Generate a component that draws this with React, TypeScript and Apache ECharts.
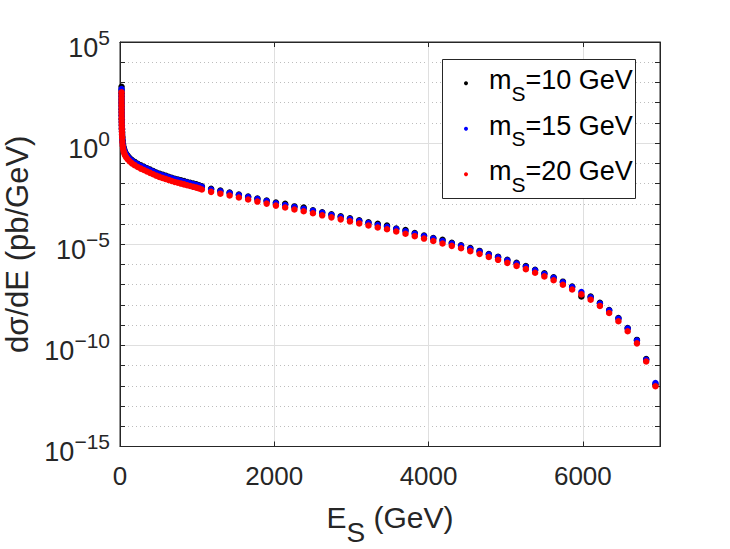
import React, { useEffect, useRef } from 'react';
import * as echarts from 'echarts';

// Energy of the scalar, E_S (GeV)
const energyGeV = [
  20, 20.05, 20.1, 20.2, 20.3, 20.5, 20.7, 21, 21.4, 22,
  22.7, 23.5, 24.5, 26, 28, 31, 35, 40, 47, 55,
  65, 80, 100, 125, 155, 190, 230, 270, 310, 350,
  390, 430, 470, 510, 550, 590, 630, 670, 710, 750,
  790, 830, 870, 910, 950, 990, 1025, 1061,
  1181, 1301, 1421, 1541, 1661, 1781, 1901, 2021, 2141, 2261,
  2381, 2501, 2621, 2741, 2861, 2981, 3101, 3221, 3341, 3461,
  3581, 3701, 3821, 3941, 4061, 4181, 4301, 4421, 4541, 4661,
  4781, 4901, 5021, 5141, 5261, 5381, 5501, 5621, 5741, 5861,
  5981, 6101, 6221, 6341, 6461, 6581, 6701, 6821, 6941,
];

// log10 of dσ/dE (pb/GeV), m_S = 10 GeV
const logDsdE_m10 = [
  2.79, 2.63, 2.47, 2.31, 2.15, 1.99, 1.83, 1.67, 1.51, 1.35,
  1.18, 1.02, 0.86, 0.69, 0.51, 0.30, 0.11, -0.06, -0.21, -0.32,
  -0.43, -0.53, -0.63, -0.74, -0.84, -0.93, -1.02, -1.10, -1.17, -1.24,
  -1.31, -1.38, -1.45, -1.51, -1.56, -1.61, -1.66, -1.71, -1.76, -1.80,
  -1.84, -1.88, -1.92, -1.96, -2.00, -2.04, -2.08, -2.13,
  -2.26, -2.35, -2.44, -2.54, -2.64, -2.74, -2.84, -2.94, -3.00, -3.13,
  -3.19, -3.32, -3.42, -3.52, -3.62, -3.72, -3.82, -3.92, -3.99, -4.08,
  -4.22, -4.30, -4.45, -4.57, -4.69, -4.78, -4.93, -5.05, -5.19, -5.33,
  -5.48, -5.62, -5.77, -5.92, -6.08, -6.26, -6.44, -6.63, -6.85, -7.09,
  -7.58, -7.59, -7.90, -8.25, -8.65, -9.14, -9.73, -10.68, -11.93,
];

// log10 of dσ/dE (pb/GeV), m_S = 15 GeV
const logDsdE_m15 = [
  2.67, 2.50, 2.34, 2.18, 2.02, 1.86, 1.70, 1.54, 1.38, 1.22,
  1.06, 0.90, 0.74, 0.58, 0.40, 0.20, 0.02, -0.14, -0.27, -0.37,
  -0.47, -0.57, -0.67, -0.77, -0.87, -0.96, -1.05, -1.13, -1.20, -1.27,
  -1.34, -1.41, -1.48, -1.54, -1.59, -1.64, -1.69, -1.74, -1.79, -1.83,
  -1.87, -1.91, -1.95, -1.99, -2.03, -2.07, -2.11, -2.16,
  -2.29, -2.38, -2.47, -2.57, -2.67, -2.77, -2.87, -2.97, -3.06, -3.16,
  -3.25, -3.35, -3.45, -3.55, -3.65, -3.75, -3.85, -3.95, -4.05, -4.14,
  -4.25, -4.36, -4.48, -4.60, -4.72, -4.84, -4.96, -5.08, -5.22, -5.36,
  -5.51, -5.65, -5.80, -5.95, -6.11, -6.29, -6.47, -6.66, -6.88, -7.12,
  -7.36, -7.62, -7.93, -8.28, -8.68, -9.17, -9.76, -10.71, -11.86,
];

// log10 of dσ/dE (pb/GeV), m_S = 20 GeV
const logDsdE_m20 = [
  2.51, 2.35, 2.19, 2.03, 1.87, 1.71, 1.55, 1.39, 1.23, 1.07,
  0.91, 0.75, 0.59, 0.43, 0.26, 0.06, -0.12, -0.27, -0.40, -0.50,
  -0.60, -0.70, -0.80, -0.90, -1.00, -1.09, -1.18, -1.26, -1.33, -1.40,
  -1.47, -1.54, -1.61, -1.67, -1.72, -1.77, -1.82, -1.87, -1.92, -1.96,
  -2.00, -2.04, -2.08, -2.12, -2.16, -2.20, -2.24, -2.29,
  -2.41, -2.50, -2.59, -2.69, -2.79, -2.89, -2.99, -3.09, -3.18, -3.28,
  -3.37, -3.47, -3.57, -3.67, -3.77, -3.87, -3.97, -4.07, -4.17, -4.26,
  -4.37, -4.48, -4.60, -4.72, -4.84, -4.96, -5.08, -5.20, -5.34, -5.48,
  -5.63, -5.77, -5.92, -6.07, -6.23, -6.41, -6.59, -6.78, -7.00, -7.24,
  -7.48, -7.74, -8.05, -8.40, -8.81, -9.30, -9.90, -10.80, -12.02,
];

const seriesMasses = ['10', '15', '20'];
const seriesNames = ['mS=10 GeV', 'mS=15 GeV', 'mS=20 GeV'];
const seriesColors = ['#000000', '#0000ff', '#ff0000'];
const xTickLabels = [0, 2000, 4000, 6000];
const yDecadeLabels = [-15, -10, -5, 0, 5];

const FONT = "'Liberation Sans', Arial, Helvetica, sans-serif";
const INK = '#262626';
const MAJOR_GRID = '#dfdfdf';
const MINOR_GRID = '#bdbdbd';

export default function App() {
  const ref = useRef<HTMLDivElement>(null);

  useEffect(() => {
    if (!ref.current) return;
    const chart = echarts.init(ref.current, undefined, { renderer: 'svg' });
    const logs = [logDsdE_m10, logDsdE_m15, logDsdE_m20];

    const series = seriesNames.map((name, i) => ({
      name,
      type: 'scatter',
      xAxisIndex: 0,
      yAxisIndex: 0,
      symbol: 'circle',
      symbolSize: 6.5,
      itemStyle: { color: seriesColors[i], opacity: 1 },
      emphasis: { disabled: true },
      data: energyGeV.map((e, j) => [e, logs[i][j]]),
    }));

    const tickStyle = { color: INK, width: 1 };

    // legend box drawn as graphic elements (MATLAB style)
    const legendX = 442.5;
    const legendY = 59.5;
    const legendW = 193;
    const legendH = 139;
    const rowY = [83.3, 128.8, 174.3];
    const legendItems: any[] = [
      {
        type: 'rect',
        z: 100,
        shape: { x: legendX, y: legendY, width: legendW, height: legendH },
        style: { fill: '#ffffff', stroke: INK, lineWidth: 1 },
      },
    ];
    seriesMasses.forEach((m, i) => {
      legendItems.push({
        type: 'circle',
        z: 101,
        shape: { cx: 466, cy: rowY[i], r: 2 },
        style: { fill: seriesColors[i] },
      });
      legendItems.push({
        type: 'text',
        z: 101,
        x: 489,
        y: rowY[i] - 1.8,
        style: {
          text: `{m|m}{s|S}{m|=${m} GeV}`,
          align: 'left',
          verticalAlign: 'middle',
          fontFamily: FONT,
          fontSize: 27,
          fill: '#000000',
          rich: {
            m: { fontFamily: FONT, fontSize: 27, fill: '#000000', lineHeight: 30, verticalAlign: 'top' },
            s: { fontFamily: FONT, fontSize: 21, fill: '#000000', lineHeight: 30, verticalAlign: 'top', padding: [16.3, 0, 0, 0] },
          },
        },
      });
    });

    chart.setOption({
      animation: false,
      backgroundColor: '#ffffff',
      grid: {
        left: 120,
        top: 42,
        width: 540,
        height: 404.5,
        containLabel: false,
        outerBoundsMode: 'none',
        show: true,
        borderColor: INK,
        borderWidth: 1,
        backgroundColor: 'transparent',
      },
      graphic: legendItems,
      xAxis: [
        {
          type: 'value',
          position: 'bottom',
          min: 0,
          max: 7000,
          interval: 2000,
          axisLine: { show: true, onZero: false, lineStyle: tickStyle },
          axisTick: { show: true, inside: true, length: 5, lineStyle: tickStyle },
          splitLine: { show: true, lineStyle: { color: MAJOR_GRID, width: 1 } },
          axisLabel: {
            margin: 16,
            fontSize: 26,
            fontFamily: FONT,
            color: INK,
            showMaxLabel: false,
            formatter: (v: number) => (xTickLabels.includes(v) ? String(v) : ''),
          },
          name: '{e|E}{s|S}{e| (GeV)}',
          nameLocation: 'middle',
          nameGap: 55.5,
          nameTextStyle: {
            fontFamily: FONT,
            color: INK,
            fontSize: 30,
            rich: {
              e: { fontFamily: FONT, fontSize: 30, color: INK, lineHeight: 30, verticalAlign: 'top' },
              s: { fontFamily: FONT, fontSize: 28, color: INK, lineHeight: 30, verticalAlign: 'top', padding: [16, 0, 0, 0] },
            },
          },
        },
        {
          type: 'value',
          position: 'top',
          min: 0,
          max: 7000,
          interval: 2000,
          axisLine: { show: true, onZero: false, lineStyle: tickStyle },
          axisTick: { show: true, inside: true, length: 5, lineStyle: tickStyle },
          splitLine: { show: false },
          axisLabel: { show: false },
        },
      ],
      yAxis: [
        {
          type: 'value',
          position: 'left',
          min: -15,
          max: 5,
          interval: 5,
          axisLine: { show: true, onZero: false, lineStyle: tickStyle },
          axisTick: { show: true, inside: true, length: 5, lineStyle: tickStyle },
          minorTick: { show: true, splitNumber: 5, length: 5, lineStyle: tickStyle },
          splitLine: { show: true, lineStyle: { color: MAJOR_GRID, width: 1 } },
          minorSplitLine: { show: true, lineStyle: { color: MINOR_GRID, width: 1, type: [1, 3] } },
          axisLabel: {
            margin: 10,
            color: INK,
            fontFamily: FONT,
            fontSize: 27,
            formatter: (v: number) =>
              yDecadeLabels.includes(v) ? `{b|10}{s|${String(v).replace('-', '\u2212')}}` : '',
            rich: {
              b: { fontFamily: FONT, fontSize: 27, color: INK, lineHeight: 38, verticalAlign: 'bottom' },
              s: { fontFamily: FONT, fontSize: 21, color: INK, lineHeight: 38, verticalAlign: 'top', padding: [3.5, 0, 0, 0] },
            },
          },
          name: 'dσ/dE (pb/GeV)',
          nameLocation: 'middle',
          nameGap: 82,
          nameTextStyle: { fontFamily: FONT, fontSize: 31, color: INK },
        },
        {
          type: 'value',
          position: 'right',
          min: -15,
          max: 5,
          interval: 5,
          axisLine: { show: true, onZero: false, lineStyle: tickStyle },
          axisTick: { show: true, inside: true, length: 5, lineStyle: tickStyle },
          minorTick: { show: true, splitNumber: 5, length: 5, lineStyle: tickStyle },
          splitLine: { show: false },
          minorSplitLine: { show: false },
          axisLabel: { show: false },
        },
      ],
      series,
    });

    return () => {
      chart.dispose();
    };
  }, []);

  return (
    <div
      ref={ref}
      style={{ position: 'fixed', left: 0, top: 0, width: 730, height: 549, background: '#ffffff' }}
    />
  );
}
